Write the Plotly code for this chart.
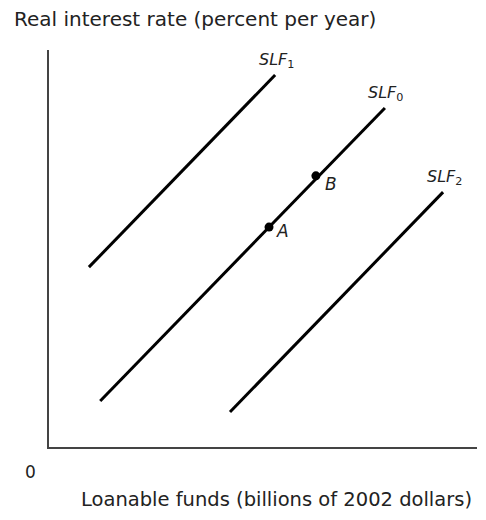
import plotly.graph_objects as go

# Data (abstract units)
curve_names = ["SLF1", "SLF0", "SLF2"]
curve_x = [[0.92, 5.21], [1.18, 7.74], [4.17, 9.08]]
curve_y = [[4.53, 9.37], [1.16, 8.54], [0.88, 6.42]]
label_text = ["<i>SLF</i><sub>1</sub>", "<i>SLF</i><sub>0</sub>", "<i>SLF</i><sub>2</sub>"]
point_names = ["A", "B"]
point_x = [5.07, 6.15]
point_y = [5.54, 6.83]

FONT = "DejaVu Sans"
TXT = "#222"
point_label_shift = {"A": (5, -4), "B": (7, -8)}

fig = go.Figure()
for name, xs, ys in zip(curve_names, curve_x, curve_y):
    fig.add_trace(go.Scatter(x=xs, y=ys, mode="lines", name=name,
                             line=dict(color="black", width=3), showlegend=False,
                             hoverinfo="skip"))
fig.add_trace(go.Scatter(x=point_x, y=point_y, mode="markers", showlegend=False,
                         marker=dict(color="black", size=9), hoverinfo="skip"))

annotations = []
for txt, xs, ys in zip(label_text, curve_x, curve_y):
    annotations.append(dict(x=xs[1], y=ys[1], xref="x", yref="y", text=txt,
                            showarrow=False, xanchor="center", yanchor="bottom",
                            xshift=1, yshift=2, font=dict(family=FONT, size=16, color=TXT)))
for n, px, py in zip(point_names, point_x, point_y):
    dx, dy = point_label_shift[n]
    annotations.append(dict(x=px, y=py, xref="x", yref="y", text=f"<i>{n}</i>",
                            showarrow=False, xanchor="left", yanchor="middle",
                            xshift=dx, yshift=dy, font=dict(family=FONT, size=17, color=TXT)))
annotations.append(dict(x=0, y=0, xref="x", yref="y", text="0", showarrow=False,
                        xanchor="right", yanchor="top", xshift=-11, yshift=-13,
                        font=dict(family=FONT, size=17, color=TXT)))
annotations.append(dict(x=0, y=1, xref="paper", yref="paper", text="Real interest rate (percent per year)",
                        showarrow=False, xanchor="left", yanchor="bottom", xshift=-37, yshift=17,
                        font=dict(family=FONT, size=20, color=TXT)))
annotations.append(dict(x=1, y=0, xref="paper", yref="paper", text="Loanable funds (billions of 2002 dollars)",
                        showarrow=False, xanchor="right", yanchor="top", xshift=-3, yshift=-39,
                        font=dict(family=FONT, size=19.5, color=TXT)))

fig.update_layout(
    width=470, height=504,
    margin=dict(l=41, r=1, t=42, b=65),
    paper_bgcolor="white", plot_bgcolor="white",
    annotations=annotations,
    xaxis=dict(range=[0, 9.862], showgrid=False, zeroline=False, showticklabels=False,
               ticks="", showline=True, linecolor="#444", linewidth=2, fixedrange=True),
    yaxis=dict(range=[0, 10], showgrid=False, zeroline=False, showticklabels=False,
               ticks="", showline=True, linecolor="#444", linewidth=2, fixedrange=True),
)
fig.write_html("out.html")
